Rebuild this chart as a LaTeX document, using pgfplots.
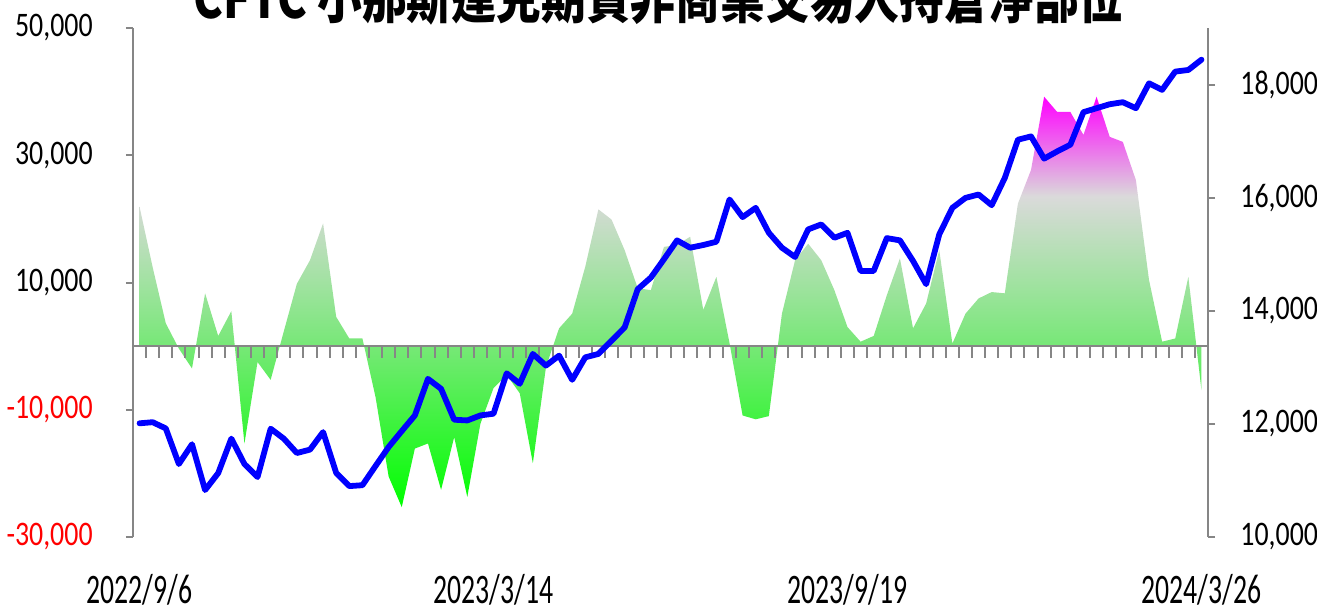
\documentclass[border=0pt]{standalone}
\usepackage{pgfplots}
\pgfplotsset{compat=1.18}
\usepackage{pgfplotstable}
\usepackage{fontspec}
\setmainfont{Carlito}
\newfontfamily\ytfont[FakeStretch=0.81]{Carlito}
\newfontfamily\xtfont[FakeStretch=0.66]{Carlito}
\newfontfamily\cjk[FakeStretch=0.8]{Noto Sans CJK TC}
\definecolor{axgray}{RGB}{134,134,134}
\definecolor{gbot}{RGB}{0,255,0}
\definecolor{gmid}{RGB}{118,232,118}
\definecolor{ggray}{RGB}{218,218,218}
\definecolor{gtop}{RGB}{255,0,255}
\definecolor{lineblue}{RGB}{0,0,255}
\pgfdeclareverticalshading{cftc}{100bp}{color(0bp)=(gbot); color(25bp)=(gbot); color(44.5bp)=(gmid); color(62.85bp)=(ggray); color(75bp)=(gtop); color(100bp)=(gtop)}

\pgfplotstableread{
i v
0 21900
1 12400
2 3600
3 -400
4 -3500
5 8300
6 1600
7 5500
8 -15300
9 -2500
10 -5300
11 2300
12 9800
13 13500
14 19300
15 4600
16 1200
17 1200
18 -8000
19 -20500
20 -25300
21 -16100
22 -15300
23 -22600
24 -14300
25 -23700
26 -12200
27 -6600
28 -4500
29 -7400
30 -18400
31 -3300
32 2800
33 5100
34 12500
35 21500
36 19900
37 15100
38 9100
39 8800
40 15600
41 15900
42 17200
43 5700
44 10900
45 500
46 -10900
47 -11500
48 -11000
49 5100
50 13500
51 16100
52 13500
53 8800
54 3000
55 700
56 1600
57 8000
58 13800
59 2800
60 6700
61 15100
62 400
63 5100
64 7500
65 8500
66 8300
67 22400
68 27700
69 39200
70 36800
71 36800
72 33200
73 39200
74 32900
75 32100
76 26100
77 10400
78 700
79 1200
80 10900
81 -6900
}\netpos

\pgfplotstableread{
i v
0 12010
1 12030
2 11920
3 11290
4 11640
5 10830
6 11130
7 11740
8 11290
9 11060
10 11915
11 11740
12 11485
13 11545
14 11855
15 11133
16 10900
17 10916
18 11256
19 11591
20 11873
21 12150
22 12796
23 12620
24 12074
25 12061
26 12150
27 12180
28 12895
29 12710
30 13237
31 13031
32 13207
33 12779
34 13177
35 13237
36 13471
37 13705
38 14382
39 14587
40 14911
41 15245
42 15115
43 15163
44 15221
45 15968
46 15656
47 15820
48 15379
49 15115
50 14951
51 15439
52 15527
53 15291
54 15379
55 14705
56 14705
57 15285
58 15245
59 14881
60 14470
61 15351
62 15820
63 15996
64 16056
65 15867
66 16349
67 17025
68 17083
69 16690
70 16819
71 16937
72 17512
73 17582
74 17652
75 17688
76 17582
77 18022
78 17906
79 18229
80 18258
81 18440
}\nasdaq

\begin{document}
\begin{tikzpicture}
\begin{axis}[
  at={(0,0)}, anchor=south west,
  scale only axis, width=537.5pt, height=254.5pt,
  xmin=-0.5, xmax=81.5, ymin=-30000, ymax=50000,
  scaled y ticks=false,
  axis y line*=left, axis x line*=bottom,
  x axis line style={draw=none},
  y axis line style={axgray, line width=1pt, -},
  xtick={0,27,54,81},
  xticklabels={2022/9/6,2023/3/14,2023/9/19,2024/3/26},
  xtick style={draw=none},
  xticklabel style={font=\xtfont\fontsize{21}{21}\selectfont, anchor=base, inner sep=0pt, yshift=-29.5pt},
  ytick={-30000,-10000,10000,30000,50000},
  yticklabels={{\textcolor{red}{-30,000}},{\textcolor{red}{-10,000}},{10,000},{30,000},{50,000}},
  yticklabel style={font=\ytfont\fontsize{17.2}{17.2}\selectfont, anchor=east, inner sep=0pt, xshift=-16.5pt},
  ytick style={axgray, line width=1pt},
  tick align=outside, major tick length=3.5pt,
  clip=false,
]
\addplot[draw=none, shading=cftc, no markers] table[x=i, y=v] {\netpos} \closedcycle;
\draw[axgray, line width=1.2pt] (axis cs:-0.5,0) -- (axis cs:81.5,0);
\pgfplotsinvokeforeach{0,...,80}{
  \draw[axgray, line width=1pt] (axis cs:#1.5,0) -- ([yshift=-6pt]axis cs:#1.5,0);
}
\end{axis}
\begin{axis}[
  at={(0,0)}, anchor=south west,
  scale only axis, width=537.5pt, height=254.5pt,
  xmin=-0.5, xmax=81.5, ymin=10000, ymax=19000,
  scaled y ticks=false,
  axis x line=none, axis y line*=right,
  y axis line style={axgray, line width=1pt, -},
  ytick={10000,12000,14000,16000,18000},
  yticklabels={{10,000},{12,000},{14,000},{16,000},{18,000}},
  yticklabel style={font=\ytfont\fontsize{17.2}{17.2}\selectfont, anchor=west, inner sep=0pt, xshift=12.5pt},
  ytick style={axgray, line width=1pt},
  tick align=outside, major tick length=3.5pt,
]
\addplot[lineblue, line width=2.9pt, line join=round, line cap=round, no markers] table[x=i, y=v] {\nasdaq};
\end{axis}
\node[anchor=base, font=\cjk\bfseries\fontsize{28}{28}\selectfont] at (262.75pt,259pt) {CFTC 小那斯達克期貨非商業交易人持倉淨部位};
\pgfresetboundingbox
\useasboundingbox (-66.5pt,-34.5pt) rectangle (592pt,268.5pt);
\end{tikzpicture}
\end{document}
